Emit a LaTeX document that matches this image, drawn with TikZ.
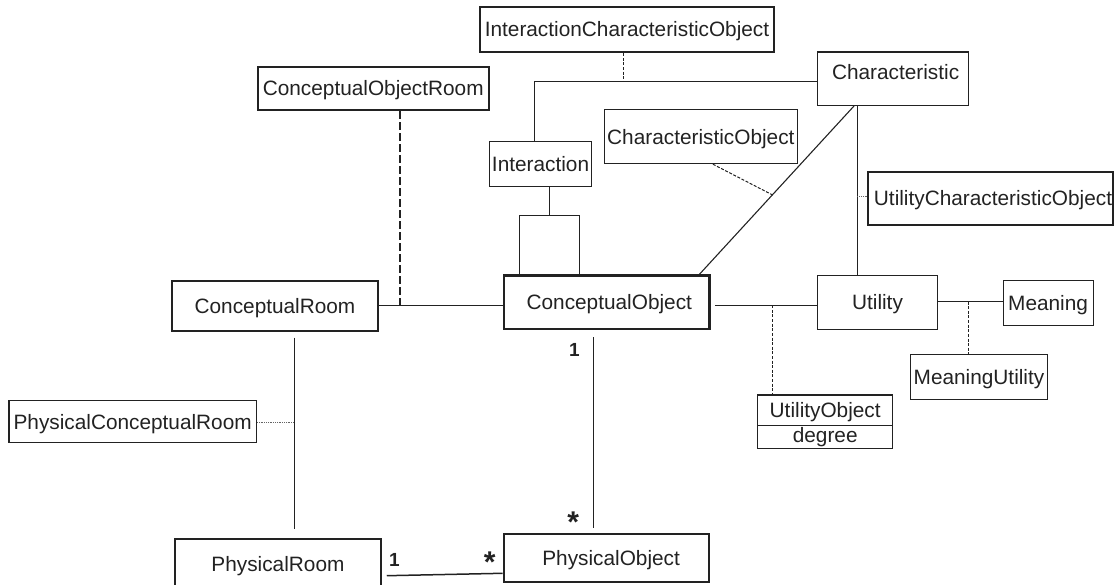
\documentclass[tikz,border=0pt]{standalone}
\usepackage{fontspec}
\setmainfont{Liberation Sans}
\usetikzlibrary{calc}
\definecolor{ink}{HTML}{222222}
\tikzset{
  cls/.style={draw=ink, text=ink, rectangle, inner sep=0pt, text height=15pt, text depth=0pt, line width=1.2pt},
  thick cls/.style={cls, line width=2pt},
  thin cls/.style={cls, line width=1pt},
  assoc/.style={draw=ink, line width=1.1pt},
  longdash/.style={draw=ink, line width=1.2pt, dash pattern=on 8pt off 3pt},
  shortdash/.style={draw=ink, line width=1pt, dash pattern=on 3pt off 1.6pt},
  finedot/.style={draw=ink!70, line width=0.9pt, dash pattern=on 1pt off 0.8pt},
  mult/.style={text=ink, inner sep=0pt, text height=15pt, text depth=0pt, font=\fontsize{19}{22}\selectfont\bfseries},
  star/.style={mult, font=\fontsize{30}{32}\selectfont\bfseries}
}
\begin{document}
\begin{tikzpicture}[x=1pt, y=-1pt, font=\fontsize{20.8}{24}\selectfont]
\useasboundingbox (0,0) rectangle (1119,585);

% classes
\node[thick cls, minimum width=294.7pt, minimum height=45.6pt] (ico) at (627,29.5) {InteractionCharacteristicObject};
\node[thick cls, minimum width=230.7pt, minimum height=43.6pt] (cor) at (373.25,88.5) {ConceptualObjectRoom};
\node[thin cls, minimum width=102.5pt, minimum height=45pt] (inter) at (540.55,163.8) {Interaction};
\node[cls, minimum width=151pt, minimum height=53.4pt, text depth=14pt] (char) at (893.1,78.7) {\hspace{5pt}Characteristic};
\node[thin cls, minimum width=192.5pt, minimum height=53.7pt] (charobj) at (700.85,136.85) {CharacteristicObject};
\node[thick cls, minimum width=245.6pt, minimum height=53.4pt] (uco) at (990.5,198.4) {\hspace{5pt}UtilityCharacteristicObject};
\node[thick cls, minimum width=205.8pt, minimum height=49.7pt] (cr) at (275,305.85) {ConceptualRoom};
\node[thick cls, line width=2.3pt, minimum width=205.6pt, minimum height=53.6pt] (co) at (606.8,302.4) {\hspace{5pt}ConceptualObject};
\node[cls, minimum width=119.6pt, minimum height=53.6pt] (util) at (877.5,302.5) {Utility\hspace{8pt}};
\node[thin cls, minimum width=90.2pt, minimum height=44.6pt] (mean) at (1048.1,303) {Meaning};
\node[thin cls, minimum width=137.4pt, minimum height=44.3pt] (mu) at (979,376.85) {MeaningUtility};
\node[cls, minimum width=135pt, minimum height=30.3pt] (uo) at (825.2,410.15) {UtilityObject};
\node[cls, minimum width=135pt, minimum height=23.4pt, text height=11pt] (uod) at (825.2,437) {degree};
\node[cls, minimum width=247.5pt, minimum height=41.6pt] (pcr) at (132.65,421.5) {PhysicalConceptualRoom};
\node[cls, line width=1.5pt, minimum width=205.7pt, minimum height=49pt] (pr) at (277.95,563.5) {PhysicalRoom};
\node[thick cls, minimum width=204.9pt, minimum height=48pt] (po) at (606.15,558.3) {\hspace{10pt}PhysicalObject};

% junction coordinates
\coordinate (j1) at (400,305.2);
\coordinate (c1) at (534.6,81.7);
\coordinate (c2) at (623.9,81.7);
\coordinate (b0) at (549.3,215.7);
\coordinate (b1) at (519.5,215.7);
\coordinate (b2) at (579.1,215.7);
\coordinate (dtop) at (854,105.4);
\coordinate (dbot) at (699.3,275.6);
\coordinate (v) at (857.3,196);
\coordinate (k) at (772.7,305.3);
\coordinate (m) at (968.3,301.7);
\coordinate (vco) at (593.9,0);
\coordinate (vcr) at (294.6,422.7);

% ConceptualRoom -- ConceptualObject with association class
\draw[assoc] ($(cr.east |- j1)+(-1,0)$) -- (co.west |- j1);
\draw[longdash] (cor.south -| j1) -- (j1);

% Interaction -- Characteristic with association class
\draw[assoc] (inter.north -| c1) -- (c1) -- (char.west |- c1);
\draw[shortdash] (ico.south -| c2) -- (c2);

% Interaction -- ConceptualObject
\draw[assoc] (inter.south -| b0) -- (b0);
\draw[assoc] (co.north -| b1) -- (b1) -- (b2) -- (co.north -| b2);

% Characteristic -- ConceptualObject
\draw[assoc] (char.south -| dtop) -- (co.north -| dbot);
\draw[shortdash] (charobj.south -| 712.9,0) -- ($(dtop)!0.5264!(dbot)$);

% Characteristic -- Utility
\draw[assoc] (char.south -| v) -- (util.north -| v);
\draw[finedot] (v) -- (uco.west |- v);

% ConceptualObject -- Utility
\draw[assoc] ($(co.east |- k)+(4,0)$) -- (util.west |- k);
\draw[shortdash] (k) -- (uo.north -| k);

% Utility -- Meaning
\draw[assoc] (util.east |- m) -- (mean.west |- m);
\draw[shortdash] (m) -- (mu.north -| m);

% ConceptualObject -- PhysicalObject
\draw[assoc, shorten <=6.8pt, shorten >=5pt] (co.south -| vco) -- (po.north -| vco);
\node[mult] (m1) at (574.3,349) {1};
\node[star] (m2) at (573.2,524.5) {*};

% ConceptualRoom -- PhysicalRoom
\draw[assoc, shorten <=6pt, shorten >=9pt] (cr.south -| vcr) -- (pr.north -| vcr);
\draw[finedot] (pcr.east |- vcr) -- (vcr);

% PhysicalRoom -- PhysicalObject
\draw[assoc, line width=1.5pt] ($(pr.east)+(5.2,12.2)$) -- ($(po.west)+(0,15)$);
\node[mult] (m3) at (394.5,559) {1};
\node[star] (m4) at (489.6,565) {*};
\end{tikzpicture}
\end{document}
